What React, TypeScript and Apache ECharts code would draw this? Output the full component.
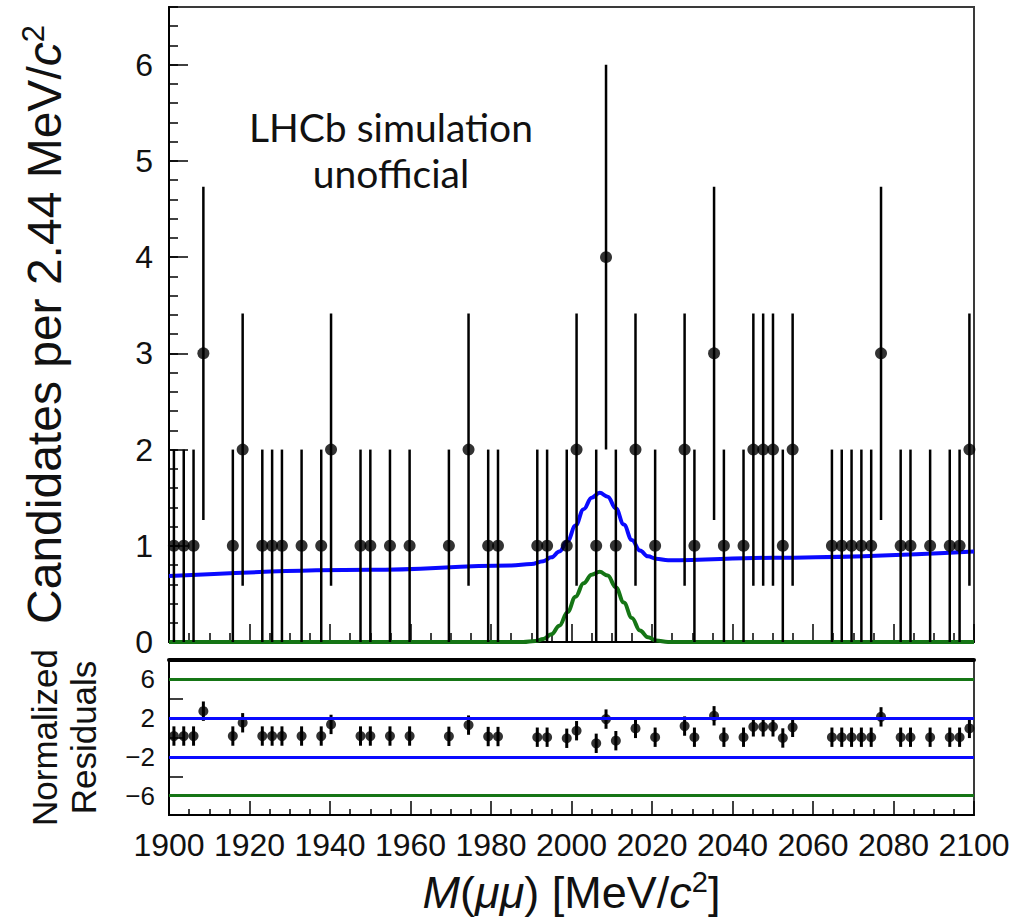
import React, { useEffect, useRef } from "react";
import * as echarts from "echarts";

// ---- data ----
const binCenters = [
  1901.22, 1903.66, 1906.1, 1908.54, 1915.86, 1918.3, 1923.18, 1925.62, 1928.06, 1932.94,
  1937.82, 1940.26, 1947.58, 1950.02, 1954.9, 1959.78, 1969.54, 1974.42, 1979.3, 1981.74,
  1991.5, 1993.94, 1998.82, 2001.26, 2006.14, 2008.58, 2011.02, 2015.9, 2020.78, 2028.1,
  2030.54, 2035.42, 2037.86, 2042.74, 2045.18, 2047.62, 2050.06, 2052.5, 2054.94, 2064.7,
  2067.14, 2069.58, 2072.02, 2074.46, 2076.9, 2081.78, 2084.22, 2089.1, 2093.98, 2096.42,
  2098.86,
];
const counts = [
  1, 1, 1, 3, 1, 2, 1, 1, 1, 1,
  1, 2, 1, 1, 1, 1, 1, 2, 1, 1,
  1, 1, 1, 2, 1, 4, 1, 2, 1, 2,
  1, 3, 1, 1, 2, 2, 2, 1, 2, 1,
  1, 1, 1, 1, 3, 1, 1, 1, 1, 1,
  2,
];
const residuals = [
  0.15, 0.15, 0.15, 2.72, 0.15, 1.52, 0.15, 0.15, 0.15, 0.15,
  0.15, 1.35, 0.15, 0.15, 0.15, 0.15, 0.12, 1.28, 0.1, 0.1,
  0.03, 0.03, -0.08, 0.7, -0.6, 1.9, -0.33, 0.94, 0.03, 1.18,
  0.03, 2.24, 0.03, 0.03, 1.1, 1.1, 1.1, -0.05, 1.05, 0.03,
  0.03, 0.03, 0.03, 0.03, 2.13, 0.03, 0.03, 0.03, 0.03, 0.03,
  0.94,
];
const residualError = 1;

const totalFitX = [1900, 1950, 1985, 1990, 1993, 1995, 1997, 1999, 2001, 2003, 2005, 2007, 2009, 2011, 2013, 2015, 2017, 2019, 2021, 2024, 2050, 2100];
const totalFitY = [0.685, 0.75, 0.795, 0.81, 0.84, 0.88, 0.94, 1.05, 1.21, 1.38, 1.5, 1.55, 1.51, 1.39, 1.22, 1.06, 0.95, 0.89, 0.865, 0.85, 0.875, 0.94];
const signalFitX = [1900, 1988, 1991, 1993, 1995, 1997, 1999, 2001, 2003, 2005, 2007, 2009, 2011, 2013, 2015, 2017, 2019, 2021, 2024, 2100];
const signalFitY = [0, 0, 0.01, 0.03, 0.08, 0.17, 0.31, 0.47, 0.61, 0.7, 0.73, 0.69, 0.57, 0.41, 0.25, 0.12, 0.05, 0.015, 0, 0];

const greenBands = [6, -6];
const blueBands = [2, -2];
const residualLabels = [6, 2, -2, -6];

const FONT = "'Liberation Sans', Arial, Helvetica, sans-serif";
const BLUE = "#0a0aff";
const GREEN = "#157515";

export default function App() {
  const ref = useRef<HTMLDivElement>(null);
  useEffect(() => {
    if (!ref.current) return;
    const chart = echarts.init(ref.current, null, { renderer: "svg" });

    const pointData = binCenters.map((x, i) => [x, counts[i], Math.sqrt(counts[i])]);
    const resData = binCenters.map((x, i) => [x, residuals[i], residualError]);

    const errBar = (lw: number) => (params: any, api: any) => {
      const x = api.value(0);
      const y = api.value(1);
      const e = api.value(2);
      const lo = api.coord([x, y - e]);
      const hi = api.coord([x, y + e]);
      return {
        type: "line",
        shape: { x1: lo[0], y1: lo[1], x2: hi[0], y2: hi[1] },
        style: { stroke: "#000", lineWidth: lw },
      };
    };

    const xCommon = {
      type: "value",
      min: 1900,
      max: 2100,
      interval: 20,
      splitLine: { show: false },
    };

    const option: any = {
      animation: false,
      backgroundColor: "#fff",
      textStyle: { fontFamily: FONT },
      grid: [
        { left: 169, right: 41, top: 7, height: 635, show: true, borderColor: "#3a3a3a", borderWidth: 2 },
        { left: 169, right: 41, top: 660, height: 155, show: true, borderColor: "#3a3a3a", borderWidth: 2 },
      ],
      graphic: [
        {
          type: "text",
          x: 391,
          y: 104,
          style: {
            text: "LHCb simulation\nunofficial",
            textAlign: "center",
            fontFamily: "Lato, 'Open Sans', sans-serif",
            fontSize: 39,
            lineHeight: 46,
            fill: "#111",
          },
        },
      ],
      xAxis: [
        {
          ...xCommon,
          gridIndex: 0,
          axisLine: { onZero: false, lineStyle: { color: "#000", width: 2 } },
          axisTick: { inside: true, length: 18, lineStyle: { color: "#000", width: 1.5 } },
          minorTick: { show: true, splitNumber: 4, length: 9, lineStyle: { color: "#000", width: 1.5 } },
          axisLabel: { show: false },
        },
        {
          ...xCommon,
          gridIndex: 1,
          axisLine: { onZero: false, lineStyle: { color: "#000", width: 2 } },
          axisTick: { inside: true, length: 14, lineStyle: { color: "#000", width: 1.5 } },
          minorTick: { show: true, splitNumber: 4, length: 6, lineStyle: { color: "#000", width: 1.5 } },
          axisLabel: {
            show: true,
            fontSize: 32,
            color: "#111",
            fontFamily: FONT,
            margin: 14,
            formatter: (v: number) => String(v),
          },
          name: "{i|M}{n|(}{i|μμ}{n|) [MeV/}{i|c}{s|2}{n|]}",
          nameLocation: "middle",
          nameGap: 52,
          nameTextStyle: {
            rich: {
              n: { fontSize: 45, fontFamily: FONT, color: "#111", lineHeight: 50 },
              i: { fontSize: 45, fontFamily: FONT, fontStyle: "italic", color: "#111", lineHeight: 50 },
              s: { fontSize: 29, fontFamily: FONT, color: "#111", verticalAlign: "top", lineHeight: 30 },
            },
          },
        },
        {
          ...xCommon,
          gridIndex: 1,
          position: "top",
          axisLine: { show: true, onZero: false, lineStyle: { color: "#000", width: 4 } },
          axisTick: { show: false },
          axisLabel: { show: false },
        },
      ],
      yAxis: [
        {
          type: "value",
          gridIndex: 0,
          min: 0,
          max: 6.6,
          interval: 1,
          position: "left",
          splitLine: { show: false },
          axisLine: { show: true, onZero: false, lineStyle: { color: "#000", width: 2 } },
          axisTick: { inside: true, length: 19, lineStyle: { color: "#000", width: 1.5 } },
          axisLabel: { fontSize: 32, color: "#111", fontFamily: FONT, margin: 16, showMaxLabel: false },
          name: "{n|Candidates per 2.44 MeV/}{i|c}{s|2}",
          nameLocation: "middle",
          nameRotate: 90,
          nameGap: 99,
          nameTextStyle: {
            rich: {
              n: { fontSize: 48, fontFamily: FONT, color: "#111", lineHeight: 52 },
              i: { fontSize: 48, fontFamily: FONT, fontStyle: "italic", color: "#111", lineHeight: 52 },
              s: { fontSize: 31, fontFamily: FONT, color: "#111", verticalAlign: "top", lineHeight: 31 },
            },
          },
        },
        {
          type: "value",
          gridIndex: 0,
          min: 0,
          max: 6.6,
          interval: 0.2,
          position: "left",
          offset: 0,
          splitLine: { show: false },
          axisLine: { show: false },
          axisTick: { inside: true, length: 9, lineStyle: { color: "#000", width: 1.5 } },
          axisLabel: { show: false },
        },
        {
          type: "value",
          gridIndex: 1,
          min: -8,
          max: 8,
          interval: 2,
          position: "left",
          splitLine: { show: false },
          axisLine: { show: true, onZero: false, lineStyle: { color: "#000", width: 2 } },
          axisTick: { inside: true, length: 14, lineStyle: { color: "#000", width: 1.5 } },
          axisLabel: {
            fontSize: 26,
            color: "#111",
            fontFamily: FONT,
            margin: 14,
            formatter: (v: number) =>
              residualLabels.indexOf(v) >= 0 ? (v < 0 ? "\u2212" + String(-v) : String(v)) : "",
          },
          name: "Normalized\nResiduals",
          nameLocation: "middle",
          nameRotate: 90,
          nameGap: 66,
          nameTextStyle: { fontSize: 35, fontFamily: FONT, color: "#111", lineHeight: 39 },
        },
      ],
      series: [
        {
          type: "line",
          xAxisIndex: 0,
          yAxisIndex: 0,
          data: signalFitX.map((x, i) => [x, signalFitY[i]]),
          smooth: 0.4,
          smoothMonotone: "x",
          symbol: "none",
          lineStyle: { color: GREEN, width: 4 },
          z: 2,
        },
        {
          type: "line",
          xAxisIndex: 0,
          yAxisIndex: 0,
          data: totalFitX.map((x, i) => [x, totalFitY[i]]),
          smooth: 0.4,
          smoothMonotone: "x",
          symbol: "none",
          lineStyle: { color: BLUE, width: 4 },
          z: 2,
        },
        {
          type: "custom",
          xAxisIndex: 0,
          yAxisIndex: 0,
          data: pointData,
          encode: { x: 0, y: 1 },
          renderItem: errBar(2.5),
          z: 3,
        },
        {
          type: "scatter",
          xAxisIndex: 0,
          yAxisIndex: 0,
          data: pointData.map((d) => [d[0], d[1]]),
          symbol: "circle",
          symbolSize: 12,
          itemStyle: { color: "#000" },
          z: 4,
        },
        {
          type: "custom",
          xAxisIndex: 1,
          yAxisIndex: 2,
          data: resData,
          encode: { x: 0, y: 1 },
          renderItem: errBar(3),
          z: 3,
        },
        {
          type: "scatter",
          xAxisIndex: 1,
          yAxisIndex: 2,
          data: resData.map((d) => [d[0], d[1]]),
          symbol: "circle",
          symbolSize: 10,
          itemStyle: { color: "#000" },
          z: 4,
          markLine: {
            silent: true,
            symbol: "none",
            label: { show: false },
            data: [
              ...greenBands.map((v) => ({ yAxis: v, lineStyle: { color: GREEN, width: 3, type: "solid" } })),
              ...blueBands.map((v) => ({ yAxis: v, lineStyle: { color: BLUE, width: 3, type: "solid" } })),
            ],
          },
        },
      ],
    };
    chart.setOption(option);
    return () => chart.dispose();
  }, []);

  return (
    <div
      ref={ref}
      style={{ position: "fixed", left: 0, top: 0, width: 1015, height: 921, background: "#fff" }}
    />
  );
}
